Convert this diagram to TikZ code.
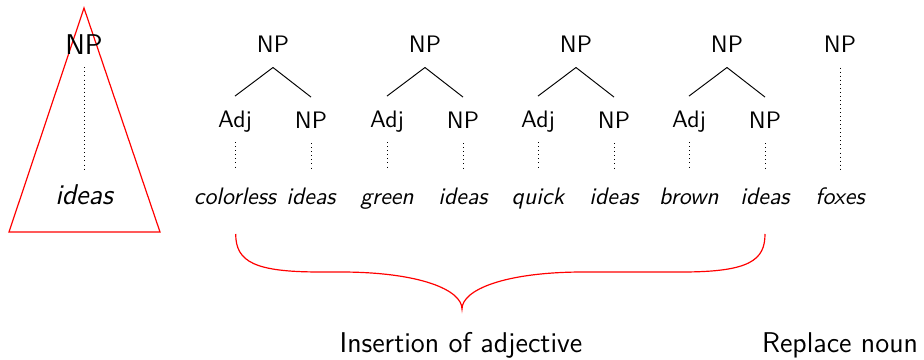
\documentclass[tikz,border=0pt]{standalone}

\begin{document}
\begin{tikzpicture}[x=0.42pt,y=-0.42pt,
  lbl/.style={font=\sffamily, inner xsep=0pt, text height=7pt, text depth=0pt, anchor=base},
  rootcat/.style={lbl, inner ysep=5.9pt},
  cat/.style={lbl, inner ysep=6pt},
  leaf/.style={lbl, font=\sffamily\itshape, inner ysep=7.7pt},
  bigroot/.style={lbl, font=\sffamily\large, text height=8.4pt, inner ysep=5pt},
  bigleaf/.style={lbl, font=\sffamily\itshape\large, text height=8.4pt, inner ysep=5.9pt},
  branch/.style={black, line width=0.4pt},
  dots/.style={line width=0.4pt, dash pattern=on 0.4pt off 1.3pt},
  caption/.style={font=\sffamily\large, inner sep=0pt, anchor=base},
  hl/.style={red, line width=0.5pt}]

\useasboundingbox (0,0) rectangle (924,360);

% collapsed NP drawn as a triangle
\draw[hl] (84,8) -- (9,232) -- (160,232) -- cycle;
\node[bigroot] (r0) at (84,55) {NP};
\node[bigleaf] (l0) at (84,205) {ideas};
\draw[dots] (r0.south) -- (l0.north);

% NP -> Adj NP expansions
\foreach \i/\x/\adj in {1/273/colorless, 2/425/green, 3/576/quick, 4/727/brown}{
  \node[rootcat] (r\i) at (\x,53) {NP};
  \node[cat] (a\i) at (\x-38,127.5) {Adj};
  \node[cat] (n\i) at (\x+38,128.5) {NP};
  \node[leaf] (la\i) at (\x-38,205) {\adj};
  \node[leaf] (ln\i) at (\x+38,205) {ideas};
  \draw[branch] (r\i.south) -- (a\i.north);
  \draw[branch] (r\i.south) -- (n\i.north);
  \draw[dots] (a\i.south) -- (la\i.north);
  \draw[dots] (n\i.south) -- (ln\i.north);
}

% noun replacement
\node[rootcat] (r5) at (840,53) {NP};
\node[leaf] (l5) at (840,205) {foxes};
\draw[dots] (r5.south) -- (l5.north);

% brace over the adjective insertions, tip under the middle caption
\coordinate (bl) at (235.7,234);
\coordinate (tip) at (462,309);
\coordinate (br) at (765,234);
\draw[hl]
  (bl) .. controls (235.7,262) and (255,272) .. (320,272)
  -- (340,272) .. controls (420,272) and (462,290) .. (tip)
  .. controls (462,290) and (504,272) .. (584,272)
  -- (682,272) .. controls (750,272) and (765,260) .. (br);

\node[caption] (c1) at (461,353) {Insertion of adjective};
\node[caption] (c2) at (840,353) {Replace noun};
\end{tikzpicture}
\end{document}
